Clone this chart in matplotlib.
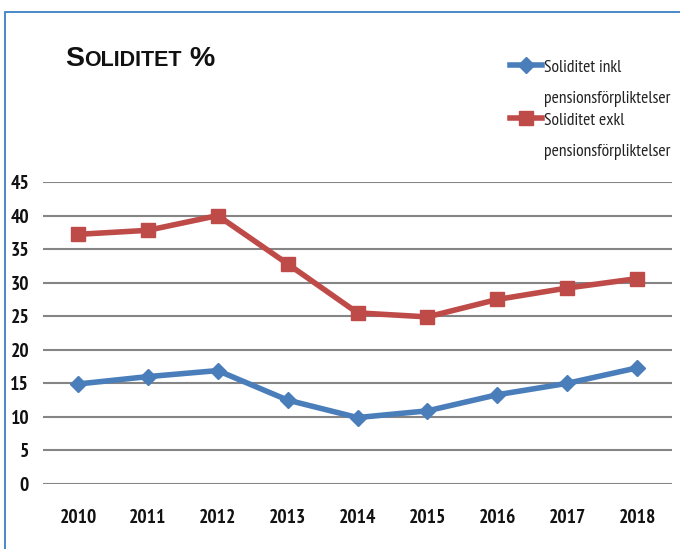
import matplotlib
matplotlib.use("Agg")
import matplotlib.pyplot as plt
from matplotlib.patches import Rectangle
from matplotlib.lines import Line2D
from matplotlib.offsetbox import TextArea, HPacker, AnchoredOffsetbox

years = ["2010", "2011", "2012", "2013", "2014", "2015", "2016", "2017", "2018"]
inkl = [14.9, 16.0, 16.9, 12.5, 9.9, 10.9, 13.3, 15.0, 17.3]
exkl = [37.2, 37.8, 40.0, 32.8, 25.5, 24.9, 27.5, 29.2, 30.6]
label_inkl = "Soliditet inkl\npensionsförpliktelser"
label_exkl = "Soliditet exkl\npensionsförpliktelser"
yticks = [0, 5, 10, 15, 20, 25, 30, 35, 40, 45]

BLUE = "#4a7ebb"
RED = "#be4b48"
narrow = ["PT Sans Narrow", "DejaVu Sans"]
legfont = ["PT Sans Narrow", "DejaVu Sans"]

W, H = 680, 549
fig = plt.figure(figsize=(W / 100, H / 100), dpi=100)
fig.patch.set_facecolor("white")

# blue frame
fig.add_artist(Rectangle((5 / W, -0.05), 1.2, 1 - 12 / H + 0.05, transform=fig.transFigure,
                         fill=False, edgecolor="#3b7fc4", linewidth=1.3))

ax = fig.add_axes([43 / W, 1 - 484 / H, (672 - 43) / W, (484 - 182) / H])
x = list(range(len(years)))
ax.plot(x, inkl, color=BLUE, linewidth=4.0, marker="D", markersize=8.5, zorder=3)
ax.plot(x, exkl, color=RED, linewidth=4.0, marker="s", markersize=9.5, zorder=3)
ax.set_xlim(-0.5, len(years) - 0.5)
ax.set_ylim(0, 45)
ax.set_yticks(yticks)
ax.set_xticks(x)
ax.set_xticklabels(years)
ax.yaxis.grid(True, color="#858585", linewidth=1.5)
ax.set_axisbelow(True)
for s in ax.spines.values():
    s.set_visible(False)
ax.tick_params(axis="both", length=0)
ax.tick_params(axis="y", pad=10)
ax.tick_params(axis="x", pad=18)
for lab in ax.get_xticklabels() + ax.get_yticklabels():
    lab.set_fontfamily(narrow)
    lab.set_fontweight("bold")
    lab.set_fontsize(14)
    lab.set_color("#111111")

# legend drawn by hand: handle aligned with the first line of each label
entries = [(label_inkl, BLUE, "D", 8.5, 65), (label_exkl, RED, "s", 9.5, 118)]
for label, col, mk, ms, yh in entries:
    yf = 1 - yh / H
    fig.add_artist(Line2D([510 / W, 526 / W, 542 / W], [yf, yf, yf], color=col, linewidth=4.0,
                          marker=mk, markersize=ms, markevery=[1], transform=fig.transFigure))
    lines = label.split("\n")
    fig.text(544 / W, 1 - (yh + 3) / H, lines[0], family=legfont, fontsize=12.6,
             va="center", ha="left", color="#222222")
    fig.text(544 / W, 1 - (yh + 34) / H, lines[1], family=legfont, fontsize=12.6,
             va="center", ha="left", color="#222222")

# small-caps title
tp_big = dict(fontsize=20.5, fontweight="bold", family="Liberation Sans", color="#111111")
tp_small = dict(fontsize=15.5, fontweight="bold", family="Liberation Sans", color="#111111")
pack = HPacker(children=[TextArea("S", textprops=tp_big), TextArea("OLIDITET", textprops=tp_small),
                         TextArea(" %", textprops=tp_big)], align="baseline", pad=0, sep=0)
ab = AnchoredOffsetbox(loc="upper left", child=pack, frameon=False,
                       bbox_to_anchor=(65 / W, 1 - 46 / H), bbox_transform=fig.transFigure,
                       borderpad=0, pad=0)
fig.add_artist(ab)

fig.savefig("out.png", dpi=100)
